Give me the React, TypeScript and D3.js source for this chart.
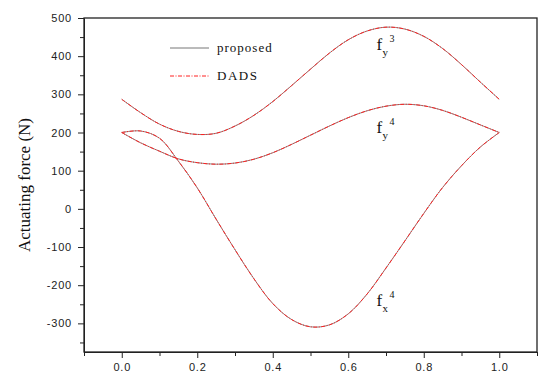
import React, { useRef, useEffect } from "react";
import * as d3 from "d3";

// sample positions (normalised time)
const tValues = [0, 0.05, 0.1, 0.15, 0.2, 0.25, 0.3, 0.35, 0.4, 0.45, 0.5, 0.55, 0.6, 0.65, 0.7, 0.75, 0.8, 0.85, 0.9, 0.95, 1.0];

const fy3 = [287, 252, 222, 203, 195, 198, 217, 245, 281, 323, 366, 408, 443, 466, 476, 471, 452, 420, 378, 332, 287];
const fy4 = [200, 173, 151, 131, 121, 117, 120, 130, 147, 169, 193, 217, 239, 257, 269, 274, 270, 258, 240, 220, 200];
const fx4 = [200, 204, 185, 125, 55, -27, -107, -183, -248, -290, -309, -304, -275, -223, -155, -84, -12, 56, 113, 162, 200];

const xTicks = [0, 0.2, 0.4, 0.6, 0.8, 1.0];
const yTicks = [-300, -200, -100, 0, 100, 200, 300, 400, 500];

const curveLabels = [
  { sub: "y", sup: "3", t: 0.675, v: 415 },
  { sub: "y", sup: "4", t: 0.675, v: 200 },
  { sub: "x", sup: "4", t: 0.675, v: -255 },
];

const App: React.FC = () => {
  const svgRef = useRef<SVGSVGElement | null>(null);

  useEffect(() => {
    if (!svgRef.current) return;
    const width = 539;
    const height = 378;
    const left = 84, right = 537, top = 18, bottom = 352;

    const x = d3.scaleLinear().domain([-0.1, 1.1]).range([left, right]);
    const y = d3.scaleLinear().domain([-375, 500]).range([bottom, top]);

    const svg = d3.select(svgRef.current)
      .attr("width", width)
      .attr("height", height);
    svg.selectAll("*").remove();

    // axes
    const xAxis = svg.append("g")
      .attr("transform", `translate(0,${bottom})`)
      .call(d3.axisBottom(x).tickValues(xTicks).tickSize(6).tickSizeOuter(0).tickPadding(5).tickFormat(d3.format(".1f")));
    svg.append("g")
      .attr("transform", `translate(0,${bottom})`)
      .call(d3.axisBottom(x).tickValues(d3.range(-0.1, 1.11, 0.2)).tickSize(4).tickSizeOuter(0).tickFormat(() => ""))
      .select(".domain").remove();

    const yAxis = svg.append("g")
      .attr("transform", `translate(${left},0)`)
      .call(d3.axisLeft(y).tickValues(yTicks).tickSize(6).tickSizeOuter(0).tickPadding(6).tickFormat(d => String(d)));
    svg.append("g")
      .attr("transform", `translate(${left},0)`)
      .call(d3.axisLeft(y).tickValues(d3.range(-350, 500, 100)).tickSize(4).tickSizeOuter(0).tickFormat(() => ""))
      .select(".domain").remove();

    [xAxis, yAxis].forEach(g => {
      g.selectAll("text")
        .attr("font-family", "Liberation Sans, Arial, sans-serif")
        .attr("font-size", 11)
        .attr("letter-spacing", 0.8)
        .attr("fill", "#222");
    });
    svg.selectAll(".domain, .tick line").attr("stroke", "#222");

    // frame
    svg.append("rect")
      .attr("x", left).attr("y", top)
      .attr("width", right - left).attr("height", bottom - top)
      .attr("fill", "none").attr("stroke", "#222").attr("stroke-width", 1.3);

    const line = (vals: number[]) => d3.line<number>()
      .x((_, i) => x(tValues[i]))
      .y(d => y(d))
      .curve(d3.curveCatmullRom)(vals);

    const series = [fy3, fy4, fx4];
    series.forEach(s => {
      svg.append("path").attr("d", line(s)!).attr("fill", "none").attr("stroke", "#888").attr("stroke-width", 1);
    });
    series.forEach(s => {
      svg.append("path").attr("d", line(s)!).attr("fill", "none").attr("stroke", "#ff2020")
        .attr("stroke-width", 1).attr("stroke-dasharray", "4,1.5,1,1.5");
    });

    // curve labels
    curveLabels.forEach(l => {
      const g = svg.append("g").attr("transform", `translate(${x(l.t)},${y(l.v)})`)
        .attr("font-family", "Liberation Serif, Times New Roman, serif").attr("fill", "#111");
      g.append("text").attr("x", 0).attr("y", 0).attr("font-size", 17).text("f");
      g.append("text").attr("x", 6).attr("y", 6).attr("font-size", 11).text(l.sub);
      g.append("text").attr("x", 13).attr("y", -8).attr("font-size", 10).text(l.sup);
    });

    // legend
    const legend = svg.append("g").attr("font-family", "Liberation Serif, Times New Roman, serif").attr("font-size", 13).attr("fill", "#111");
    legend.append("line").attr("x1", 170).attr("x2", 209).attr("y1", 48).attr("y2", 48).attr("stroke", "#777").attr("stroke-width", 1);
    legend.append("text").attr("x", 217).attr("y", 52).attr("letter-spacing", 1).text("proposed");
    legend.append("line").attr("x1", 170).attr("x2", 209).attr("y1", 76).attr("y2", 76).attr("stroke", "#ff2020")
      .attr("stroke-width", 1).attr("stroke-dasharray", "4,1.5,1,1.5");
    legend.append("text").attr("x", 217).attr("y", 80).attr("letter-spacing", 1.5).text("DADS");

    // y title
    svg.append("text")
      .attr("transform", `translate(30,${(top + bottom) / 2}) rotate(-90)`)
      .attr("text-anchor", "middle")
      .attr("font-family", "Liberation Serif, Times New Roman, serif")
      .attr("font-size", 17)
      .attr("fill", "#111")
      .text("Actuating force (N)");
  }, []);

  return <svg ref={svgRef} style={{ position: "absolute", left: 0, top: 0, display: "block" }} />;
};

export default App;
